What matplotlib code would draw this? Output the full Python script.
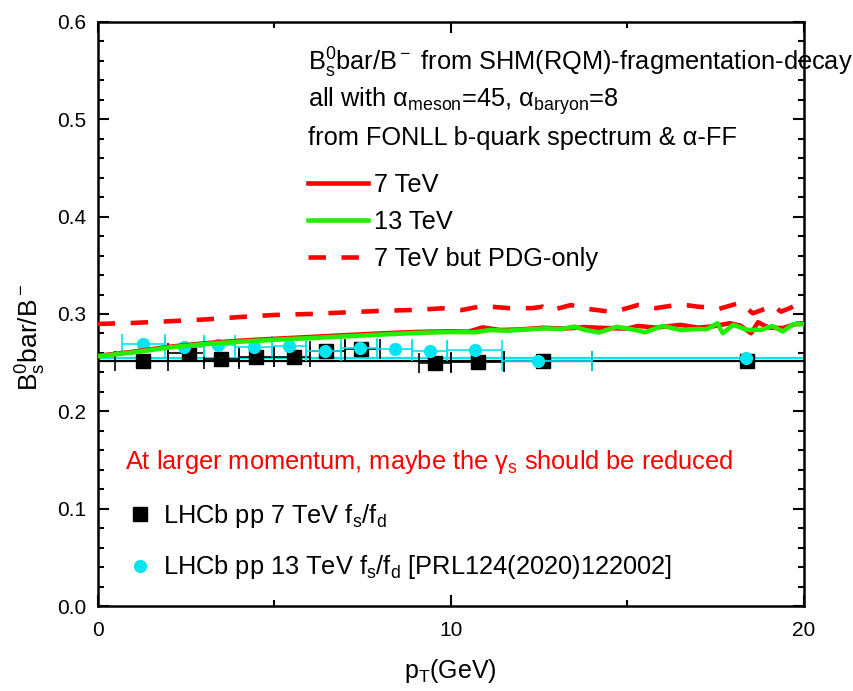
import matplotlib
matplotlib.use('Agg')
import matplotlib.pyplot as plt
from matplotlib.ticker import MultipleLocator, FormatStrFormatter

plt.rcParams['font.family'] = ['Liberation Sans', 'DejaVu Sans']
plt.rcParams['mathtext.fontset'] = 'custom'
plt.rcParams['mathtext.rm'] = 'Liberation Sans'
plt.rcParams['mathtext.it'] = 'Liberation Sans'
plt.rcParams['mathtext.default'] = 'regular'

# model curves: Bs0bar/B- ratio vs pT
pt_7 = [0, 1, 2, 3, 4, 5, 6, 7, 8, 9, 10, 10.5, 10.9, 11.4, 12, 12.6, 13.2, 13.8, 14.4,
        15.0, 15.3, 15.8, 16.5, 17.0, 17.4, 17.9, 18.2, 18.5, 18.7, 19.0, 19.4, 19.8, 20]
ratio_7 = [0.2570, 0.2612, 0.2662, 0.2698, 0.2725, 0.2745, 0.2763, 0.2782, 0.2800, 0.2815,
           0.2822, 0.2818, 0.2862, 0.2835, 0.2842, 0.2858, 0.2850, 0.2865, 0.2855, 0.2850,
           0.2877, 0.2860, 0.2888, 0.2860, 0.2872, 0.2905, 0.2880, 0.2802, 0.2915, 0.2860,
           0.2855, 0.2900, 0.2905]

pt_13 = [0, 1, 2, 3, 4, 5, 6, 7, 8, 9, 10, 10.7, 11.1, 11.6, 12.1, 12.7, 13.1, 13.5, 13.8,
         14.2, 14.7, 15.1, 15.5, 16.0, 16.5, 17.0, 17.25, 17.55, 17.7, 18.0, 18.4, 18.8,
         19.1, 19.4, 19.7, 20.0]
ratio_13 = [0.2565, 0.2605, 0.2655, 0.2690, 0.2715, 0.2735, 0.2752, 0.2770, 0.2788, 0.2805,
            0.2815, 0.2812, 0.2835, 0.2828, 0.2840, 0.2852, 0.2845, 0.2870, 0.2836, 0.2810,
            0.2868, 0.2845, 0.2812, 0.2877, 0.2836, 0.2845, 0.2843, 0.2905, 0.2802, 0.2888,
            0.2836, 0.2838, 0.2877, 0.2820, 0.2894, 0.2894]

pt_pdg = [0, 1, 2, 3, 4, 5, 6, 7, 8, 9, 9.75, 10.3, 10.9, 11.7, 12.3, 12.6, 12.8, 13.4,
          13.75, 14.5, 14.8, 15.3, 15.8, 16.5, 17.0, 17.3, 17.55, 18.2, 18.55, 18.95, 19.1,
          19.35, 19.6, 19.9, 20]
ratio_pdg = [0.2898, 0.2908, 0.2925, 0.2943, 0.2968, 0.2990, 0.3000, 0.3016, 0.3032, 0.3042,
             0.3058, 0.3040, 0.3082, 0.3058, 0.3060, 0.3075, 0.3034, 0.3092, 0.3058, 0.3024,
             0.3040, 0.3092, 0.3060, 0.3099, 0.3075, 0.3068, 0.3048, 0.3116, 0.3007, 0.3060,
             0.3092, 0.3024, 0.3060, 0.3116, 0.3110]

# LHCb 7 TeV fs/fd
lhcb7_pt = [1.29, 2.58, 3.50, 4.48, 5.57, 6.47, 7.46, 9.56, 10.76, 12.6]
lhcb7_lo = [0.5, 2.0, 3.0, 4.0, 5.0, 6.0, 7.0, 9.1, 10.0, 11.5]
lhcb7_hi = [2.0, 3.0, 4.0, 5.0, 6.0, 7.0, 8.0, 10.0, 11.5, 14.0]
lhcb7_val = [0.2522, 0.2598, 0.2536, 0.2563, 0.2563, 0.2620, 0.2642, 0.2495, 0.2502, 0.2522]
lhcb7_avg = 0.2515  # high-pT bin, bar spans the whole range

# LHCb 13 TeV fs/fd [PRL124(2020)122002]
lhcb13_pt = [1.29, 2.43, 3.42, 4.42, 5.41, 6.43, 7.44, 8.41, 9.40, 10.69, 12.48]
lhcb13_lo = [0.7, 1.9, 3.0, 3.9, 4.95, 5.9, 6.9, 7.9, 8.9, 9.9, 11.45]
lhcb13_hi = [1.9, 3.0, 3.9, 4.95, 5.9, 6.9, 7.9, 8.9, 9.9, 11.45, 14.0]
lhcb13_val = [0.2690, 0.2665, 0.2683, 0.2660, 0.2672, 0.2624, 0.2655, 0.2639, 0.2624,
              0.2630, 0.2519]
lhcb13_avg = 0.2553

black = 'black'
cyan = '#00e6f0'
red = '#ff0000'
green = '#22ee00'

fig = plt.figure(figsize=(8.54, 6.91), dpi=100)
ax = fig.add_axes([0.1144, 0.1230, 0.8270, 0.8452])

# data: horizontal bars first, markers on top
ax.plot([0, 20], [lhcb7_avg, lhcb7_avg], color=black, lw=1.6, zorder=2)
ax.plot([0, 20], [lhcb13_avg, lhcb13_avg], color=cyan, lw=1.6, zorder=2)
xerr7 = [[p - l for p, l in zip(lhcb7_pt, lhcb7_lo)], [h - p for p, h in zip(lhcb7_pt, lhcb7_hi)]]
ax.errorbar(lhcb7_pt, lhcb7_val, xerr=xerr7, fmt='none', ecolor=black, elinewidth=1.2,
            capsize=7, capthick=1.2, zorder=2)
sq, = ax.plot(lhcb7_pt + [18.4], lhcb7_val + [lhcb7_avg], 's', color=black, ms=10.5,
              zorder=3, label=r'LHCb pp 7 TeV f$_s$/f$_d$')
xerr13 = [[p - l for p, l in zip(lhcb13_pt, lhcb13_lo)], [h - p for p, h in zip(lhcb13_pt, lhcb13_hi)]]
ax.errorbar(lhcb13_pt, lhcb13_val, xerr=xerr13, fmt='none', ecolor=cyan, elinewidth=1.2,
            capsize=7, capthick=1.2, zorder=4)
ci, = ax.plot(lhcb13_pt + [18.35], lhcb13_val + [lhcb13_avg], 'o', color=cyan, ms=8.5,
              zorder=5, label=r'LHCb pp 13 TeV f$_s$/f$_d$ [PRL124(2020)122002]')

# model curves
l7, = ax.plot(pt_7, ratio_7, color=red, lw=3.3, zorder=6, label='7 TeV')
l13, = ax.plot(pt_13, ratio_13, color=green, lw=3.3, zorder=7, label='13 TeV')
lpdg, = ax.plot(pt_pdg, ratio_pdg, color=red, lw=3.3, dashes=(3.8, 3.4), zorder=6,
                label='7 TeV but PDG-only')

ax.set_xlim(0, 20)
ax.set_ylim(0, 0.6)
ax.xaxis.set_major_locator(MultipleLocator(10))
ax.xaxis.set_minor_locator(MultipleLocator(5))
ax.yaxis.set_major_locator(MultipleLocator(0.1))
ax.yaxis.set_minor_locator(MultipleLocator(0.02))
ax.yaxis.set_major_formatter(FormatStrFormatter('%.1f'))
ax.tick_params(which='both', direction='in', top=True, right=True, labelsize=15, width=1.5)
ax.tick_params(which='major', length=8, pad=8)
ax.tick_params(axis='x', which='major', pad=11)
ax.tick_params(which='minor', length=4.5)
for s in ax.spines.values():
    s.set_linewidth(1.8)

ax.set_xlabel(r'p$_T$(GeV)', fontsize=18, labelpad=12)
ax.set_ylabel(r'B$_s^0$bar/B$^-$', fontsize=19)
ax.yaxis.set_label_coords(-0.07, 0.46)

# header text and model legend
fs = 18.3
ax.text(5.96, 0.558, r'B$_s^0$bar/B$^-$ from SHM(RQM)-fragmentation-decay', fontsize=fs,
        va='center', clip_on=False)
ax.text(5.96, 0.519, r'all with α$_{meson}$=45, α$_{baryon}$=8', fontsize=fs, va='center')
ax.text(5.96, 0.481, 'from FONLL b-quark spectrum & α-FF', fontsize=fs, va='center')
leg1 = ax.legend(handles=[l7, l13, lpdg], loc='upper left', bbox_to_anchor=(0.298, 0.741),
                 frameon=False, fontsize=fs, handlelength=2.35, handletextpad=0.25,
                 labelspacing=0.5, borderaxespad=0, borderpad=0)
ax.add_artist(leg1)

ax.text(0.77, 0.148, r'At larger momentum, maybe the γ$_s$ should be reduced', color=red,
        fontsize=fs, va='center')
ax.legend(handles=[sq, ci], loc='lower left', bbox_to_anchor=(0.042, 0.042), frameon=False,
          fontsize=fs, handlelength=1.0, handletextpad=0.4, labelspacing=0.93,
          borderaxespad=0, borderpad=0)

fig.savefig('out.png', dpi=100)
